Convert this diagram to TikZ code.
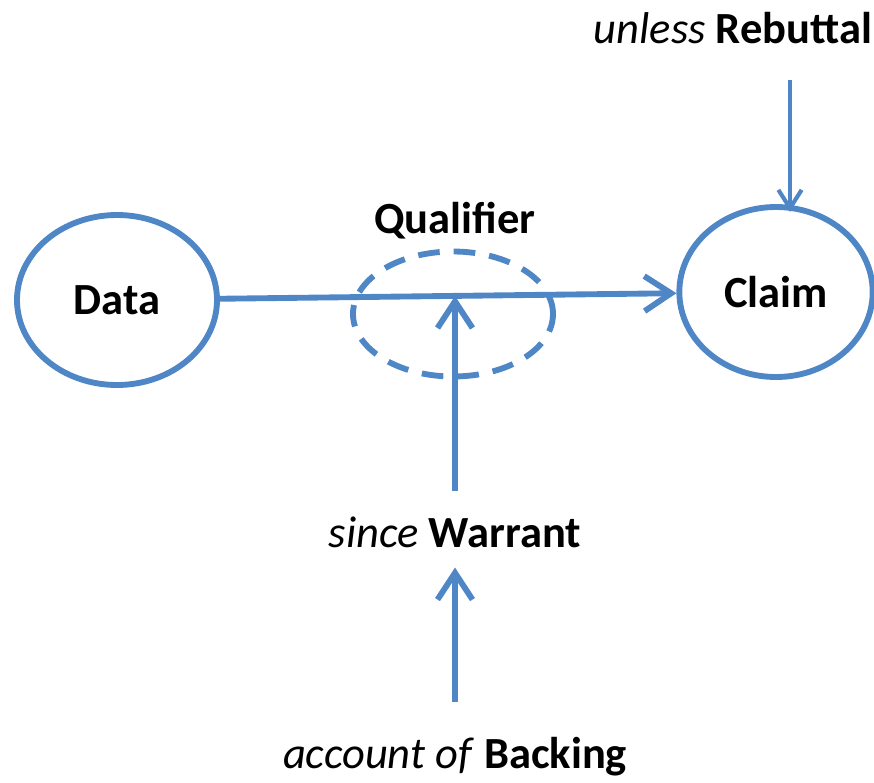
\documentclass[tikz,border=0pt]{standalone}
\usepackage{fontspec}
\setmainfont{Carlito}
\usetikzlibrary{shapes.geometric,arrows.meta}
\definecolor{argblue}{RGB}{79,134,198}
\begin{document}
\begin{tikzpicture}[x=0.03cm,y=-0.03cm,font=\fontsize{38}{44}\selectfont,
  part/.style={ellipse,draw=argblue,line width=5pt,inner sep=0pt,
    minimum width=6cm,minimum height=5.1cm},
  link/.style={draw=argblue,line width=5pt,
    -{Straight Barb[length=0.8cm,width=1.05cm]}},
  txt/.style={anchor=base,inner sep=0pt}]
\useasboundingbox (0,0) rectangle (874,782);
% the two ends of the argument
\node[part] (data) at (117,300) {\textbf{Data}};
\node[part,minimum width=5.8cm] (claim) at (776,292) {\textbf{Claim}};
% qualifier on the main inference
\node[ellipse,draw=argblue,line width=5pt,dash pattern=on 0.65cm off 0.42cm,
  minimum width=6cm,minimum height=3.75cm] (qual) at (453,314) {};
\node[txt] (qualtxt) at (455,233) {\textbf{Qualifier}};
% texts round the inference
\node[txt] (rebuttal) at (733,43) {\textit{unless} \textbf{Rebuttal}};
\node[txt] (warrant) at (455,547) {\textit{since} \textbf{Warrant}};
\node[txt] (backing) at (455,768) {\textit{account of} \textbf{Backing}};
\coordinate (meet) at (455,296);
\coordinate (rebfoot) at (790,80);
\coordinate (rebtip) at (790,212);
% connectors
\draw[link] (data) -- (claim);
\draw[link,shorten <=0.75cm] (warrant.north -| meet) -- (meet);
\draw[link,shorten <=1.05cm,shorten >=0.6cm] (backing.north) -- (warrant.south);
\draw[link,line width=3.5pt,-{Straight Barb[length=0.55cm,width=0.7cm]}]
  (rebfoot) -- (rebtip);
\end{tikzpicture}
\end{document}
